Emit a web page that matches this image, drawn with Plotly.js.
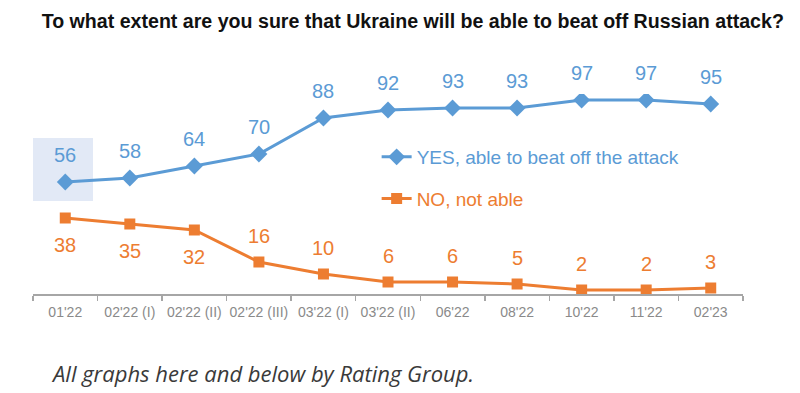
<!DOCTYPE html>
<html>
<head>
<meta charset="utf-8">
<script src="https://cdn.plot.ly/plotly-3.0.1.min.js"></script>
<style>html,body{margin:0;padding:0;background:#fff;}#chart{width:800px;height:393px;}</style>
</head>
<body>
<div id="chart"></div>
<script>
const categories = ["01'22","02'22 (I)","02'22 (II)","02'22 (III)","03'22 (I)","03'22 (II)","06'22","08'22","10'22","11'22","02'23"];
const yesValues = [56,58,64,70,88,92,93,93,97,97,95];
const noValues = [38,35,32,16,10,6,6,5,2,2,3];
const yesName = "YES, able to beat off the attack";
const noName = "NO, not able";
const noLabelSide = ["below","below","below","above","above","above","above","above","above","above","above"];

const BLUE = "#5b9bd5";
const ORANGE = "#ed7d31";
const FONT = "Liberation Sans, Arial, sans-serif";

const traces = [
  {
    x: categories, y: yesValues, type: "scatter", mode: "lines+markers",
    name: '<span style="color:' + BLUE + '">' + yesName + '</span>',
    line: {color: BLUE, width: 3},
    marker: {symbol: "diamond", size: 13, color: BLUE},
    legendgroup: "a", hoverinfo: "skip"
  },
  {
    x: categories, y: noValues, type: "scatter", mode: "lines+markers",
    name: '<span style="color:' + ORANGE + '">' + noName + '</span>',
    line: {color: ORANGE, width: 3},
    marker: {symbol: "square", size: 11, color: ORANGE},
    legendgroup: "b", hoverinfo: "skip"
  }
];

const annotations = [];
categories.forEach((c, i) => {
  annotations.push({x: c, y: yesValues[i], xref: "x", yref: "y", text: String(yesValues[i]),
    showarrow: false, yshift: 27, font: {family: FONT, size: 20, color: BLUE}});
  annotations.push({x: c, y: noValues[i], xref: "x", yref: "y", text: String(noValues[i]),
    showarrow: false, yshift: noLabelSide[i] === "below" ? -27 : 26, font: {family: FONT, size: 20, color: ORANGE}});
});
annotations.push({
  xref: "paper", yref: "paper", x: 0.0225, y: -0.395, xanchor: "left", yanchor: "middle",
  text: "<i>All graphs here and below by Rating Group.</i>", showarrow: false,
  font: {family: "Open Sans, sans-serif", size: 22, color: "#3a3a3a"}
});

const layout = {
  width: 800, height: 393,
  margin: {l: 33, r: 57, t: 94, b: 99},
  paper_bgcolor: "#ffffff", plot_bgcolor: "#ffffff",
  title: {
    text: "<b>To what extent are you sure that Ukraine will be able to beat off Russian attack?</b>",
    font: {family: FONT, size: 19.6, color: "#111"},
    x: 0.516, xanchor: "center", y: 1 - 21/393, yanchor: "middle", yref: "container", xref: "container"
  },
  xaxis: {
    type: "category", range: [-0.5, 10.5], showline: true, linecolor: "#a6a6a6", linewidth: 1.5,
    ticks: "outside", tickson: "boundaries", ticklen: 5, tickcolor: "#a6a6a6", tickwidth: 1.5,
    showgrid: false, zeroline: false, fixedrange: true, ticklabelstandoff: 5, tickangle: 0,
    tickfont: {family: FONT, size: 14, color: "#8a8a8a"}
  },
  yaxis: {range: [0, 100], visible: false, showgrid: false, zeroline: false, fixedrange: true},
  showlegend: true,
  legend: {
    x: 0.484, y: 0.58, xanchor: "left", yanchor: "middle",
    font: {family: FONT, size: 19},
    bgcolor: "rgba(0,0,0,0)", traceorder: "grouped", tracegroupgap: 14
  },
  shapes: [{
    type: "rect", xref: "x", yref: "y", x0: -0.5, x1: 0.43, y0: 46.5, y1: 78,
    fillcolor: "#e2e9f6", line: {width: 0}, layer: "below"
  }],
  annotations: annotations
};

Plotly.newPlot("chart", traces, layout, {displayModeBar: false, staticPlot: true});
</script>
</body>
</html>
